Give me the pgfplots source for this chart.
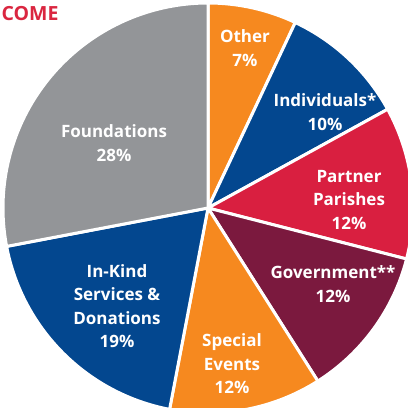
\documentclass[border=0pt]{standalone}
\usepackage{fontspec}
\setmainfont{Open Sans}
\usepackage{pgfplots}
\usepackage{pgfplotstable}
\pgfplotsset{compat=1.18}

\definecolor{c0}{HTML}{F6891F} % Other
\definecolor{c1}{HTML}{03478F} % Individuals
\definecolor{c2}{HTML}{D91F40} % Partner Parishes
\definecolor{c3}{HTML}{7B193E} % Government
\definecolor{c4}{HTML}{F6891F} % Special Events
\definecolor{c5}{HTML}{03478F} % In-Kind
\definecolor{c6}{HTML}{939598} % Foundations
\definecolor{titlered}{HTML}{DA2640}

% income shares, clockwise from the top
\pgfplotstableread{
value
7
10
12
12
12
19
28
}\income

\begin{document}
\begin{tikzpicture}[
    lbl/.style={align=center, text=white,
      font=\bfseries\fontsize{17}{23.5}\selectfont},
  ]
\def\acc{90}
\pgfplotsforeachungrouped \i in {0,...,6}{%
  \pgfplotstablegetelem{\i}{value}\of\income
  \pgfmathsetmacro\e{\acc-3.6*\pgfplotsretval}%
  \expandafter\xdef\csname s\i\endcsname{\acc}%
  \expandafter\xdef\csname e\i\endcsname{\e}%
  \xdef\acc{\e}%
}
\begin{axis}[
    scale only axis,
    width=408pt, height=408pt,
    xmin=-208, xmax=200,
    ymin=-200, ymax=208,
    hide axis,
  ]
  \pgfplotsinvokeforeach{0,...,6}{
    \fill[c#1, draw=white, line width=3pt, line join=round]
      (axis cs:0,0) -- ++({\csname s#1\endcsname}:205pt)
      arc[start angle=\csname s#1\endcsname,
          end angle=\csname e#1\endcsname, radius=205pt] -- cycle;
  }
  \node[lbl] at (axis cs:37,160) {Other\\7\%};
  \node[lbl] at (axis cs:117,96) {Individuals*\\10\%};
  \node[lbl] at (axis cs:141,8) {Partner\\Parishes\\12\%};
  \node[lbl] at (axis cs:125,-76) {Government**\\12\%};
  \node[lbl] at (axis cs:24,-156) {Special\\Events\\12\%};
  \node[lbl] at (axis cs:-91,-98) {In-Kind\\Services \&\\Donations\\19\%};
  \node[lbl] at (axis cs:-94,65) {Foundations\\28\%};
  \node[anchor=east, text=titlered, font=\bfseries\fontsize{19.5}{22}\selectfont]
    at (axis cs:-146,194) {INCOME};
\end{axis}
\pgfresetboundingbox
\path (current axis.south west) rectangle (current axis.north east);
\end{tikzpicture}
\end{document}
